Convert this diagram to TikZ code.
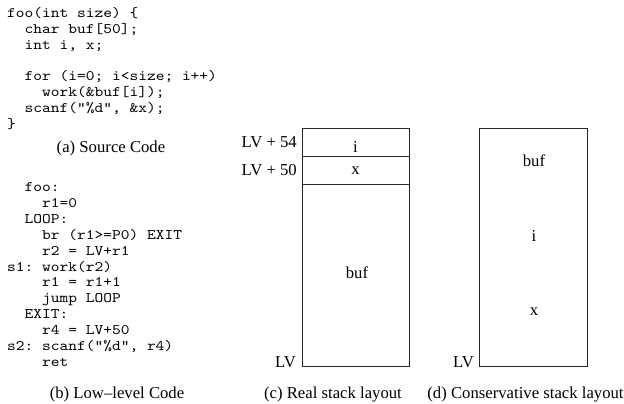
\documentclass[tikz,border=0pt]{standalone}
\usepackage{fontspec}
\setmainfont{Liberation Serif}
\setmonofont[FakeStretch=1.14]{lmmono10-regular.otf}
\usepackage{tikz}

\newcommand{\codefont}{\fontsize{14.6}{15.9}\selectfont\ttfamily}
\newcommand{\capfont}{\fontsize{16.7}{19}\selectfont}

\begin{document}
\begin{tikzpicture}[
  x=1pt, y=-1pt,
  every node/.style={inner sep=0pt, font=\capfont},
  code/.style={anchor=base west, font=\codefont},
  subcap/.style={anchor=base},
  slot/.style={anchor=base},
  addr/.style={anchor=east},
  stack/.style={line width=0.9pt, draw=black!85},
]
  \useasboundingbox (0,0) rectangle (624,404);

  % (a) source code
  \foreach \row/\ind/\txt in {0/0/{foo(int size) \{}, 1/2/{char buf[50];},
      2/2/{int i, x;}, 4/2/{for (i=0; i<size; i++)}, 5/4/{work(\&buf[i]);},
      6/2/{scanf("\%d", \&x);}, 7/0/{\}}}
    \node[code] (src\row) at ({7+\ind*8.76}, {17.5+\row*15.8}) {\txt};
  \node[subcap] (capa) at (111, 152) {(a) Source Code};

  % (b) low-level code
  \foreach \row/\ind/\txt in {0/2/{foo:}, 1/4/{r1=0}, 2/2/{LOOP:},
      3/4/{br (r1>=P0) EXIT}, 4/4/{r2 = LV+r1}, 5/0/{s1: work(r2)},
      6/4/{r1 = r1+1}, 7/4/{jump LOOP}, 8/2/{EXIT:}, 9/4/{r4 = LV+50},
      10/0/{s2: scanf("\%d", r4)}, 11/4/{ret}}
    \node[code] (low\row) at ({7+\ind*8.76}, {191.5+\row*15.9}) {\txt};
  \node[subcap] (capb) at (117, 398) {(b) Low--level Code};

  % (c) real stack layout
  \draw[stack] (302, 128) rectangle (409, 366);
  \draw[stack] (302, 156) -- (409, 156) (302, 184) -- (409, 184);
  \node[addr] (lv54) at (297, 142) {LV + 54};
  \node[addr] (lv50) at (297, 170) {LV + 50};
  \node[anchor=base east] (lvc) at (296, 367) {LV};
  \node[slot] (ci) at (355.5, 152.5) {i};
  \node[slot] (cx) at (355.5, 174.5) {x};
  \node[slot] (cbuf) at (357, 278.5) {buf};
  \node[subcap] (capc) at (333, 398) {(c) Real stack layout};

  % (d) conservative stack layout
  \draw[stack] (479, 128) rectangle (587, 366);
  \node[anchor=base east] (lvd) at (474, 367) {LV};
  \node[slot] (dbuf) at (534, 166.5) {buf};
  \node[slot] (di) at (534, 241.5) {i};
  \node[slot] (dx) at (534, 315) {x};
  \node[subcap] (capd) at (525.5, 398) {(d) Conservative stack layout};
\end{tikzpicture}
\end{document}
